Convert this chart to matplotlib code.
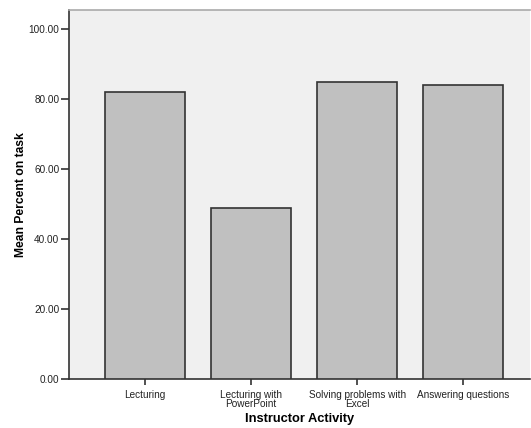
import matplotlib
matplotlib.use("Agg")
import matplotlib.pyplot as plt

categories = ["Lecturing", "Lecturing with\nPowerPoint", "Solving problems with\nExcel", "Answering questions"]
values = [82.0, 49.0, 85.0, 84.0]
yticks = [0, 20, 40, 60, 80, 100]

plt.rcParams['font.family'] = ['Liberation Sans', 'DejaVu Sans']
fig = plt.figure(figsize=(5.31, 4.28), dpi=100)
ax = fig.add_axes([69/531, 49/428, 461/531, 369/428])
ax.set_facecolor('#f0f0f0')
x = range(len(categories))
ax.bar(x, values, width=0.755, color='#c0c0c0', edgecolor='#333333', linewidth=1.2, zorder=3)
ax.set_xlim(-0.717, 3.63)
ax.set_ylim(0, (379-10)/3.5)
ax.set_yticks(yticks)
ax.set_yticklabels([f"{v:.2f}" for v in yticks], fontsize=7.2, color='#222222')
ax.set_xticks(list(x))
ax.set_xticklabels(categories, fontsize=7.2, color='#222222', linespacing=0.9)
ax.tick_params(axis='y', length=6, width=1.2, color='#333333', pad=1)
ax.tick_params(axis='x', length=4, width=1.2, color='#333333', pad=4)
for s in ['left', 'bottom']:
    ax.spines[s].set_color('#333333')
    ax.spines[s].set_linewidth(1.2)
ax.spines['top'].set_color('#aaaaaa')
ax.spines['top'].set_linewidth(1.2)
ax.spines['right'].set_visible(False)
ax.set_ylabel("Mean Percent on task", fontsize=8.7, fontweight='bold')
ax.yaxis.set_label_coords((27 - 69) / 461, 0.5)
ax.set_xlabel("Instructor Activity", fontsize=9.3, fontweight='bold', labelpad=3)
fig.savefig("out.png", dpi=100, facecolor='white')
